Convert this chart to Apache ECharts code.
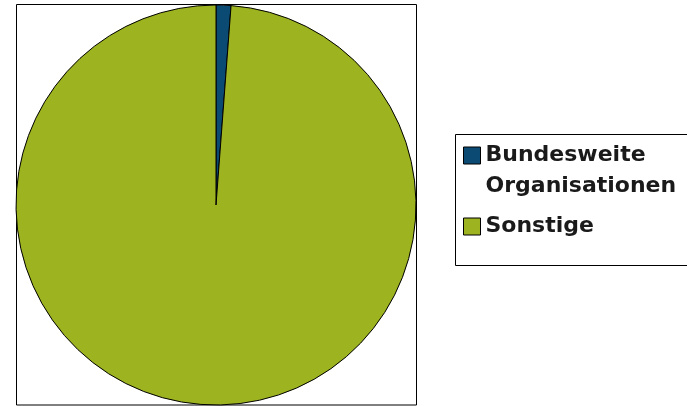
<!DOCTYPE html>
<html>
<head>
<meta charset="utf-8">
<script src="https://cdn.jsdelivr.net/npm/echarts@6/dist/echarts.min.js"></script>
<style>
  html, body { margin: 0; padding: 0; background: #fff; }
  #chart { width: 687px; height: 406px; }
</style>
</head>
<body>
<div id="chart"></div>
<script>
// Anteile (in Prozent)
var categories = ["Bundesweite Organisationen", "Sonstige"];
var shares = [1.2, 98.8];
var colors = ["#0b4a72", "#9db31f"];
var legendLabels = ["\nBundesweite\nOrganisationen", "Sonstige"];

var chart = echarts.init(document.getElementById("chart"));

var legendText = {
  fontFamily: "DejaVu Sans, sans-serif",
  fontWeight: "bold",
  fontSize: 22,
  lineHeight: 31,
  color: "#1a1a1a"
};

function legendFor(i, top) {
  return {
    orient: "vertical",
    left: 463,
    top: top,
    padding: 0,
    itemWidth: 17,
    itemHeight: 17,
    icon: "rect",
    selectedMode: false,
    data: [categories[i]],
    itemStyle: { borderColor: "#000", borderWidth: 1 },
    formatter: function () { return legendLabels[i]; },
    textStyle: legendText
  };
}

var option = {
  backgroundColor: "#ffffff",
  animation: false,
  color: colors,
  graphic: [
    {
      type: "rect",
      shape: { x: 16.5, y: 4.5, width: 400, height: 400.5 },
      style: { fill: "none", stroke: "#000", lineWidth: 1 },
      z: 0
    },
    {
      type: "rect",
      shape: { x: 455.5, y: 134.5, width: 300, height: 131 },
      style: { fill: "none", stroke: "#000", lineWidth: 1 },
      z: 0
    }
  ],
  // icon top 147 / 218, text block centred on icon
  legend: [legendFor(0, 147 + 8.5 - 46.5), legendFor(1, 218 + 8.5 - 15.5)],
  series: [
    {
      type: "pie",
      center: [216, 205],
      radius: 200,
      startAngle: 90,
      clockwise: true,
      label: { show: false },
      labelLine: { show: false },
      emphasis: { disabled: true },
      itemStyle: { borderColor: "#000", borderWidth: 1 },
      data: categories.map(function (c, i) {
        return { name: c, value: shares[i] };
      })
    }
  ]
};

chart.setOption(option);
</script>
</body>
</html>
